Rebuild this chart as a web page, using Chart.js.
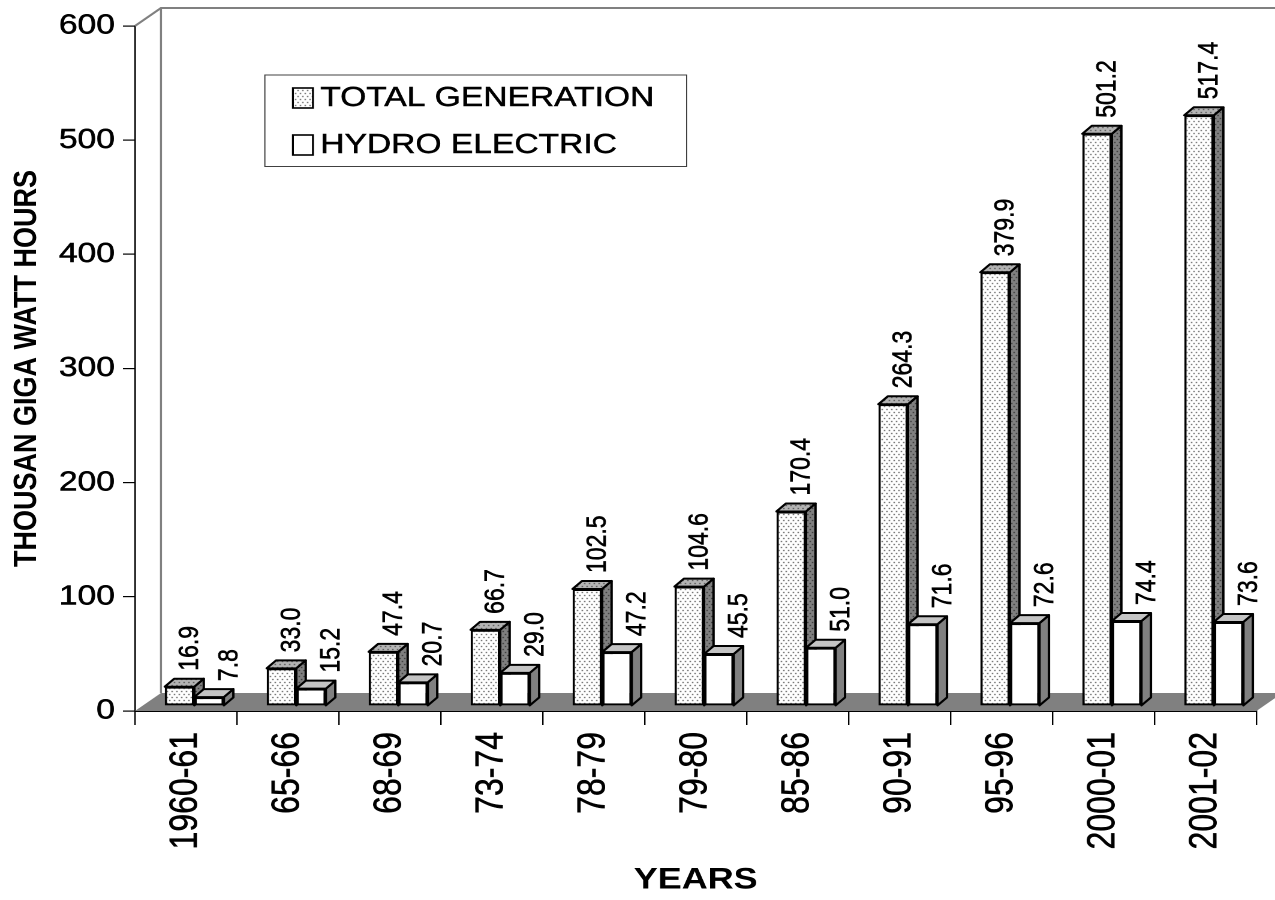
<!DOCTYPE html>
<html>
<head>
<meta charset="utf-8">
<title>Total generation and hydro electric</title>
<script src="https://cdn.jsdelivr.net/npm/chart.js@4.4.0/dist/chart.umd.min.js"></script>
<style>
  html, body { margin: 0; padding: 0; background: #fff; overflow: hidden; }
  #wrap { width: 1275px; height: 900px; overflow: hidden; }
  /* the original picture is stretched sideways, so the canvas is stretched too */
  #chart { display: block; width: 1063px; height: 900px; transform: scaleX(1.19943); transform-origin: 0 0; }
</style>
</head>
<body>
<div id="wrap"><canvas id="chart" width="1063" height="900"></canvas></div>
<script>
var years = ['1960-61', '65-66', '68-69', '73-74', '78-79', '79-80', '85-86', '90-91', '95-96', '2000-01', '2001-02'];
var totalGeneration = [16.9, 33.0, 47.4, 66.7, 102.5, 104.6, 170.4, 264.3, 379.9, 501.2, 517.4];
var hydroElectric = [7.8, 15.2, 20.7, 29.0, 47.2, 45.5, 51.0, 71.6, 72.6, 74.4, 73.6];
var seriesNames = ['TOTAL GENERATION', 'HYDRO ELECTRIC'];
var yMin = 0, yMax = 600, yStep = 100;

var FONT = '"Liberation Sans", Arial, sans-serif';
var DEPTH_X = 7.9, DEPTH_Y = -8;    // depth of each bar
var SHIFT_X = 7, SHIFT_Y = -5;      // bars stand a little back on the floor
var WALL_X = 21.7, WALL_Y = -18;    // depth of floor and back wall
var TEXT_STROKE = 0.5;              // the original text is rendered a bit heavier

function dots(bg, dot) {
  var tile = document.createElement('canvas');
  tile.width = 4;
  tile.height = 6;
  var t = tile.getContext('2d');
  t.fillStyle = bg;
  t.fillRect(0, 0, 4, 6);
  t.fillStyle = dot;
  t.fillRect(0, 0, 1, 1);
  t.fillRect(2, 3, 1, 1);
  return t.createPattern(tile, 'repeat');
}

var faceColors = [
  { front: dots('#ffffff', '#111'), top: dots('#b4b4b4', '#222'), side: dots('#808080', '#111') },
  { front: '#ffffff', top: '#c4c4c4', side: '#808080' }
];
var labelOffset = [9, 17.5];
var labelGap = 8;

function poly(ctx, pts, fill) {
  ctx.beginPath();
  ctx.moveTo(pts[0][0], pts[0][1]);
  for (var i = 1; i < pts.length; i++) ctx.lineTo(pts[i][0], pts[i][1]);
  ctx.closePath();
  ctx.fillStyle = fill;
  ctx.fill();
  ctx.stroke();
}

function heavyText(ctx, text, x, y) {
  ctx.strokeStyle = '#000';
  ctx.lineWidth = TEXT_STROKE;
  ctx.strokeText(text, x, y);
  ctx.fillText(text, x, y);
}

var threeD = {
  id: 'threeD',
  beforeDatasetsDraw: function(chart) {
    var ctx = chart.ctx;
    var a = chart.chartArea;
    ctx.save();
    // floor
    ctx.fillStyle = '#808080';
    ctx.beginPath();
    ctx.moveTo(a.left, a.bottom);
    ctx.lineTo(a.left + WALL_X, a.bottom + WALL_Y);
    ctx.lineTo(a.right + WALL_X, a.bottom + WALL_Y);
    ctx.lineTo(a.right, a.bottom);
    ctx.closePath();
    ctx.fill();
    // back wall
    ctx.strokeStyle = '#808080';
    ctx.lineWidth = 2;
    ctx.beginPath();
    ctx.moveTo(a.left, a.top);
    ctx.lineTo(a.left + WALL_X, a.top + WALL_Y);
    ctx.lineTo(chart.width, a.top + WALL_Y);
    ctx.stroke();
    ctx.lineWidth = 1.7;
    ctx.beginPath();
    ctx.moveTo(a.left + WALL_X, a.top + WALL_Y);
    ctx.lineTo(a.left + WALL_X, a.bottom + WALL_Y);
    ctx.stroke();
    ctx.restore();

    ctx.save();
    ctx.translate(SHIFT_X, SHIFT_Y);
    ctx.strokeStyle = '#000';
    ctx.lineWidth = 2;
    ctx.lineJoin = 'round';
    chart.data.datasets.forEach(function(ds, di) {
      chart.getDatasetMeta(di).data.forEach(function(bar) {
        var p = bar.getProps(['x', 'y', 'base', 'width'], true);
        var l = p.x - p.width / 2, r = p.x + p.width / 2;
        poly(ctx, [[r, p.y], [r + DEPTH_X, p.y + DEPTH_Y], [r + DEPTH_X, p.base + DEPTH_Y], [r, p.base]], faceColors[di].side);
        poly(ctx, [[l, p.y], [l + DEPTH_X, p.y + DEPTH_Y], [r + DEPTH_X, p.y + DEPTH_Y], [r, p.y]], faceColors[di].top);
      });
    });
  },
  afterDatasetsDraw: function(chart) {
    var ctx = chart.ctx;
    ctx.restore();
    ctx.save();
    ctx.fillStyle = '#000';
    ctx.font = '23px ' + FONT;
    ctx.textAlign = 'left';
    ctx.textBaseline = 'middle';
    chart.data.datasets.forEach(function(ds, di) {
      chart.getDatasetMeta(di).data.forEach(function(bar, i) {
        var p = bar.getProps(['x', 'y'], true);
        ctx.save();
        ctx.translate(p.x + SHIFT_X + labelOffset[di], p.y + SHIFT_Y + DEPTH_Y - labelGap);
        ctx.rotate(-Math.PI / 2);
        heavyText(ctx, ds.data[i].toFixed(1), 0, 0);
        ctx.restore();
      });
    });
    ctx.restore();
  },
  afterDraw: function(chart) {
    var ctx = chart.ctx;
    ctx.save();
    ctx.strokeStyle = '#404040';
    ctx.lineWidth = 1;
    ctx.strokeRect(220.8, 75, 351.7, 91.5);
    var rows = [88, 135];
    ctx.font = '28px ' + FONT;
    ctx.textBaseline = 'middle';
    ctx.textAlign = 'left';
    for (var i = 0; i < seriesNames.length; i++) {
      ctx.fillStyle = faceColors[i].front;
      ctx.fillRect(244.2, rows[i], 16.7, 20);
      ctx.strokeStyle = '#000';
      ctx.lineWidth = 1.6;
      ctx.strokeRect(244.2, rows[i], 16.7, 20);
      ctx.fillStyle = '#000';
      heavyText(ctx, seriesNames[i], 267, rows[i] + 10.5);
    }
    ctx.restore();
  }
};

var ctx = document.getElementById('chart');
var chart = new Chart(ctx, {
  type: 'bar',
  data: {
    labels: years,
    datasets: [{
      label: seriesNames[0],
      data: totalGeneration,
      backgroundColor: faceColors[0].front,
      borderColor: '#000',
      borderWidth: 2,
      borderSkipped: false,
      clip: false,
    }, {
      label: seriesNames[1],
      data: hydroElectric,
      backgroundColor: faceColors[1].front,
      borderColor: '#000',
      borderWidth: 2,
      borderSkipped: false,
      clip: false,
    }],
  },
  options: {
    responsive: false,
    devicePixelRatio: 2,
    animation: false,
    barPercentage: 1,
    categoryPercentage: 0.58,
    layout: {
      padding: { top: 26, right: 15.5, left: 0, bottom: 0 },
    },
    plugins: {
      legend: { display: false },
      tooltip: { enabled: false },
    },
    scales: {
      x: {
        afterFit: function(scale) { scale.height = 189; },
        grid: {
          offset: true,
          drawOnChartArea: false,
          drawTicks: true,
          tickLength: 14,
          tickColor: '#000',
          lineWidth: 1.2,
        },
        border: { display: true, color: '#000', width: 1.5 },
        ticks: {
          autoSkip: false,
          minRotation: 90,
          maxRotation: 90,
          padding: 7,
          color: '#000',
          textStrokeColor: '#000',
          textStrokeWidth: TEXT_STROKE,
          font: { size: 32, family: FONT },
        },
        title: {
          display: true,
          text: 'YEARS',
          color: '#000',
          font: { size: 30, weight: 'bold', family: FONT },
          padding: { top: 0, bottom: 2 },
        },
      },
      y: {
        min: yMin,
        max: yMax,
        afterFit: function(scale) { scale.width = 112.5; },
        grid: {
          drawOnChartArea: false,
          drawTicks: true,
          tickLength: 10,
          tickColor: '#000',
          lineWidth: 1.2,
        },
        border: { display: true, color: '#000', width: 1.3 },
        ticks: {
          stepSize: yStep,
          padding: 6.7,
          color: '#000',
          textStrokeColor: '#000',
          textStrokeWidth: TEXT_STROKE,
          font: { size: 28, family: FONT },
        },
        title: {
          display: true,
          text: 'THOUSAN GIGA WATT HOURS',
          color: '#000',
          font: { size: 27, weight: 'bold', family: FONT },
          padding: { top: 6.3, bottom: 0 },
        },
      },
    },
  },
  plugins: [threeD],
});
</script>
</body>
</html>
